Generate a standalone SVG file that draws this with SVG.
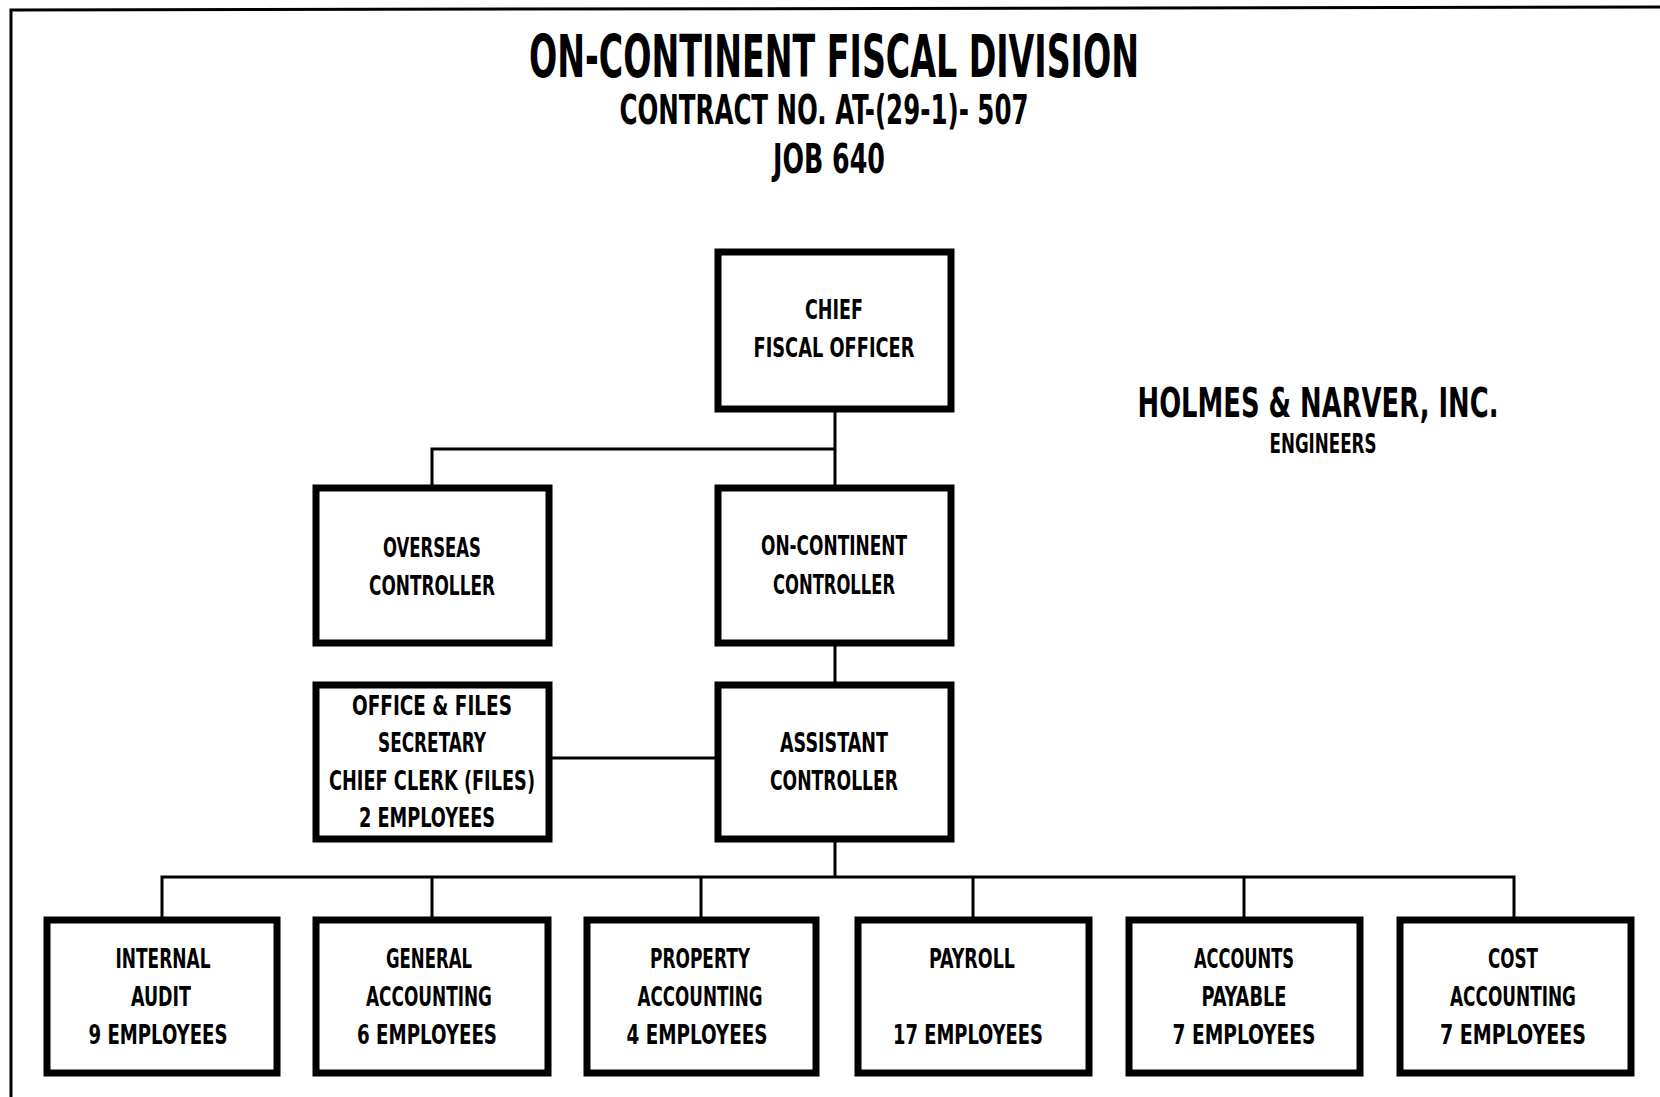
<svg xmlns="http://www.w3.org/2000/svg" width="1660" height="1097" viewBox="0 0 1660 1097">
<style>
.box{fill:#fff;stroke:#000;stroke-width:7}
.ln{fill:none;stroke:#000;stroke-width:3}
text{font-family:"DejaVu Sans Condensed","DejaVu Sans","Liberation Sans",sans-serif;font-weight:bold;font-stretch:condensed;fill:#000;text-anchor:middle}
.t{font-size:26px}
</style>
<rect width="1660" height="1097" fill="#fff"/>
<path class="ln" d="M11,1097 V10 L1660,7"/>
<g id="title">
<text x="834" y="77" font-size="58" textLength="610" lengthAdjust="spacingAndGlyphs">ON-CONTINENT FISCAL DIVISION</text>
<text x="824" y="124" font-size="40" textLength="409" lengthAdjust="spacingAndGlyphs">CONTRACT NO. AT-(29-1)- 507</text>
<text x="829" y="173" font-size="40" textLength="112" lengthAdjust="spacingAndGlyphs">JOB 640</text>
</g>
<g id="company">
<text x="1318" y="417" font-size="41" textLength="361" lengthAdjust="spacingAndGlyphs">HOLMES &amp; NARVER, INC.</text>
<text x="1323" y="453" font-size="27" textLength="107" lengthAdjust="spacingAndGlyphs">ENGINEERS</text>
</g>
<g id="connectors">
<path class="ln" d="M835,412 V485 M432,485 V449 H835"/>
<path class="ln" d="M835,646 V682"/>
<path class="ln" d="M552,758 H715"/>
<path class="ln" d="M835,842 V877"/>
<path class="ln" d="M162,917 V877 H1514 V917 M432,877 V917 M701,877 V917 M973,877 V917 M1244,877 V917"/>
</g>
<g id="chief">
<rect class="box" x="718" y="252" width="233" height="157"/>
<text class="t" x="834" y="319" textLength="58" lengthAdjust="spacingAndGlyphs">CHIEF</text>
<text class="t" x="834" y="357" textLength="161" lengthAdjust="spacingAndGlyphs">FISCAL OFFICER</text>
</g>
<g id="overseas">
<rect class="box" x="316" y="488" width="233" height="155"/>
<text class="t" x="432" y="557" textLength="98" lengthAdjust="spacingAndGlyphs">OVERSEAS</text>
<text class="t" x="432" y="595" textLength="126" lengthAdjust="spacingAndGlyphs">CONTROLLER</text>
</g>
<g id="oncontinent">
<rect class="box" x="718" y="488" width="233" height="155"/>
<text class="t" x="834" y="555" textLength="146" lengthAdjust="spacingAndGlyphs">ON-CONTINENT</text>
<text class="t" x="834" y="594" textLength="122" lengthAdjust="spacingAndGlyphs">CONTROLLER</text>
</g>
<g id="office">
<rect class="box" x="316" y="685" width="233" height="154"/>
<text class="t" x="432" y="715" textLength="160" lengthAdjust="spacingAndGlyphs">OFFICE &amp; FILES</text>
<text class="t" x="432" y="752" textLength="108" lengthAdjust="spacingAndGlyphs">SECRETARY</text>
<text class="t" x="432" y="790" textLength="206" lengthAdjust="spacingAndGlyphs">CHIEF CLERK (FILES)</text>
<text class="t" x="427" y="827" textLength="136" lengthAdjust="spacingAndGlyphs">2 EMPLOYEES</text>
</g>
<g id="assistant">
<rect class="box" x="718" y="685" width="233" height="154"/>
<text class="t" x="834" y="752" textLength="108" lengthAdjust="spacingAndGlyphs">ASSISTANT</text>
<text class="t" x="834" y="790" textLength="128" lengthAdjust="spacingAndGlyphs">CONTROLLER</text>
</g>
<g id="audit">
<rect class="box" x="47" y="920" width="230" height="153"/>
<text class="t" x="163" y="968" textLength="95" lengthAdjust="spacingAndGlyphs">INTERNAL</text>
<text class="t" x="161" y="1006" textLength="60" lengthAdjust="spacingAndGlyphs">AUDIT</text>
<text class="t" x="158" y="1044" textLength="139" lengthAdjust="spacingAndGlyphs">9 EMPLOYEES</text>
</g>
<g id="general">
<rect class="box" x="316" y="920" width="232" height="153"/>
<text class="t" x="429" y="968" textLength="86" lengthAdjust="spacingAndGlyphs">GENERAL</text>
<text class="t" x="429" y="1006" textLength="126" lengthAdjust="spacingAndGlyphs">ACCOUNTING</text>
<text class="t" x="427" y="1044" textLength="140" lengthAdjust="spacingAndGlyphs">6 EMPLOYEES</text>
</g>
<g id="property">
<rect class="box" x="587" y="920" width="229" height="153"/>
<text class="t" x="700" y="968" textLength="100" lengthAdjust="spacingAndGlyphs">PROPERTY</text>
<text class="t" x="700" y="1006" textLength="125" lengthAdjust="spacingAndGlyphs">ACCOUNTING</text>
<text class="t" x="697" y="1044" textLength="141" lengthAdjust="spacingAndGlyphs">4 EMPLOYEES</text>
</g>
<g id="payroll">
<rect class="box" x="858" y="920" width="231" height="153"/>
<text class="t" x="972" y="968" textLength="86" lengthAdjust="spacingAndGlyphs">PAYROLL</text>
<text class="t" x="968" y="1044" textLength="150" lengthAdjust="spacingAndGlyphs">17 EMPLOYEES</text>
</g>
<g id="payable">
<rect class="box" x="1129" y="920" width="231" height="153"/>
<text class="t" x="1244" y="968" textLength="100" lengthAdjust="spacingAndGlyphs">ACCOUNTS</text>
<text class="t" x="1244" y="1006" textLength="85" lengthAdjust="spacingAndGlyphs">PAYABLE</text>
<text class="t" x="1244" y="1044" textLength="143" lengthAdjust="spacingAndGlyphs">7 EMPLOYEES</text>
</g>
<g id="cost">
<rect class="box" x="1400" y="920" width="231" height="153"/>
<text class="t" x="1513" y="968" textLength="50" lengthAdjust="spacingAndGlyphs">COST</text>
<text class="t" x="1513" y="1006" textLength="126" lengthAdjust="spacingAndGlyphs">ACCOUNTING</text>
<text class="t" x="1513" y="1044" textLength="146" lengthAdjust="spacingAndGlyphs">7 EMPLOYEES</text>
</g>
</svg>
